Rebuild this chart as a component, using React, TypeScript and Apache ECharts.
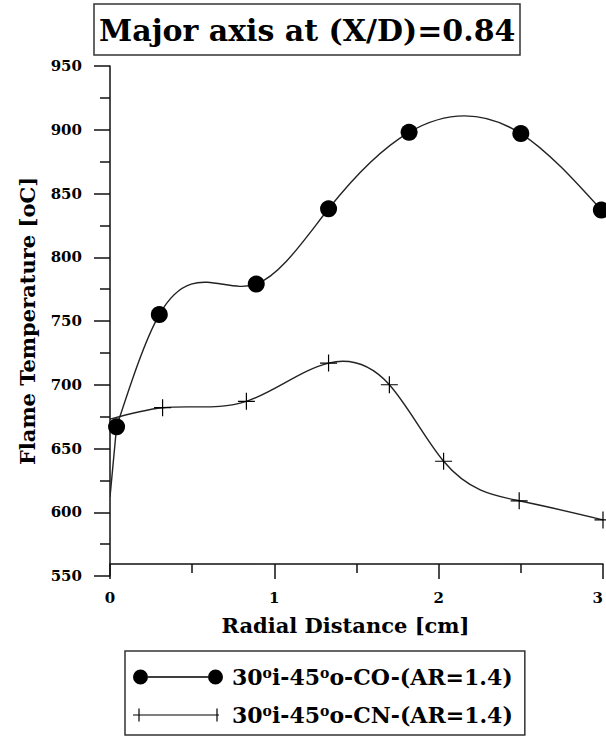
import React, { useEffect, useRef } from 'react';
import * as echarts from 'echarts';

const TITLE = 'Major axis at (X/D)=0.84';
const X_NAME = 'Radial Distance [cm]';
const Y_NAME = 'Flame Temperature [oC]';

const CO_NAME = '30oi-45oo-CO-(AR=1.4)';
const CN_NAME = '30oi-45oo-CN-(AR=1.4)';
const CO_LABEL = '30{s|o}i-45{s|o}o-CO-(AR=1.4)';
const CN_LABEL = '30{s|o}i-45{s|o}o-CN-(AR=1.4)';

// CO series (filled circles); the first point is the unmarked start of the line at x = 0
const coX = [0, 0.04, 0.3, 0.89, 1.33, 1.82, 2.5, 2.99];
const coY = [612, 667, 755, 779, 838, 898, 897, 837];
const coMarked = [false, true, true, true, true, true, true, true];

// CN series (crosses); the first point is the unmarked start of the line at x = 0
const cnX = [0, 0.32, 0.83, 1.33, 1.7, 2.03, 2.49, 3.0];
const cnY = [673, 682, 687, 717, 700, 640, 609, 594];
const cnMarked = [false, true, true, true, true, true, true, true];

const X_MIN = 0;
const X_MAX = 3;
const Y_MIN = 550;
const Y_MAX = 950;

const FONT = 'DejaVu Serif';
const INK = '#111';
const CURVE = '#222';

const CROSS = 'path://M0,7.9 H17 V9.1 H0 Z M7.9,0 H9.1 V17 H7.9 Z';
const CO_ICON =
  'path://M0,7.5 A7.5,7.5 0 1,1 15,7.5 A7.5,7.5 0 1,1 0,7.5 Z M75,7.5 A7.5,7.5 0 1,1 90,7.5 A7.5,7.5 0 1,1 75,7.5 Z M15,6.8 H75 V8.2 H15 Z';
const CN_ICON =
  'path://M0,6.9 H86 V8.1 H0 Z M5.4,1 H6.6 V14 H5.4 Z M83.4,1 H84.6 V14 H83.4 Z M0,0 H0.01 V15 H0 Z M89.99,0 H90 V15 H89.99 Z';

// slopes of a natural cubic spline through the points (used only to draw the curve)
function splineSlopes(xs: number[], ys: number[]): number[] {
  const n = xs.length;
  const h: number[] = [];
  const d: number[] = [];
  for (let i = 0; i < n - 1; i++) {
    h.push(xs[i + 1] - xs[i]);
    d.push((ys[i + 1] - ys[i]) / h[i]);
  }
  const a = new Array(n).fill(0);
  const b = new Array(n).fill(0);
  const c = new Array(n).fill(0);
  const r = new Array(n).fill(0);
  b[0] = 2; c[0] = 1; r[0] = 3 * d[0];
  for (let i = 1; i < n - 1; i++) {
    a[i] = 1 / h[i - 1];
    b[i] = 2 * (1 / h[i - 1] + 1 / h[i]);
    c[i] = 1 / h[i];
    r[i] = 3 * (d[i - 1] / h[i - 1] + d[i] / h[i]);
  }
  a[n - 1] = 1; b[n - 1] = 2; r[n - 1] = 3 * d[n - 2];
  for (let i = 1; i < n; i++) {
    const m = a[i] / b[i - 1];
    b[i] -= m * c[i - 1];
    r[i] -= m * r[i - 1];
  }
  const k = new Array(n).fill(0);
  k[n - 1] = r[n - 1] / b[n - 1];
  for (let i = n - 2; i >= 0; i--) k[i] = (r[i] - c[i] * k[i + 1]) / b[i];
  return k;
}

// curve: straight lead-in segments (first `lead` points), then a spline through the rest
function curveSeries(xs: number[], ys: number[], lead: number) {
  const sx = xs.slice(lead);
  const sy = ys.slice(lead);
  const k = splineSlopes(sx, sy);
  const style = { stroke: CURVE, lineWidth: 1.4, fill: null };
  return {
    type: 'custom',
    clip: true,
    z: 1,
    silent: true,
    data: xs.map((x, i) => [x, ys[i]]),
    renderItem: (params: any, api: any) => {
      const i = params.dataIndex;
      if (i >= xs.length - 1) return { type: 'group', children: [] };
      const p0 = api.coord([xs[i], ys[i]]);
      const p3 = api.coord([xs[i + 1], ys[i + 1]]);
      if (i < lead) {
        return { type: 'line', shape: { x1: p0[0], y1: p0[1], x2: p3[0], y2: p3[1] }, style };
      }
      const j = i - lead;
      const h = sx[j + 1] - sx[j];
      const c1 = api.coord([sx[j] + h / 3, sy[j] + (k[j] * h) / 3]);
      const c2 = api.coord([sx[j + 1] - h / 3, sy[j + 1] - (k[j + 1] * h) / 3]);
      return {
        type: 'bezierCurve',
        shape: { x1: p0[0], y1: p0[1], cpx1: c1[0], cpy1: c1[1], cpx2: c2[0], cpy2: c2[1], x2: p3[0], y2: p3[1] },
        style,
      };
    },
  };
}

function markers(xs: number[], ys: number[], marked: boolean[]) {
  return xs.map((x, i) => (marked[i] ? [x, ys[i]] : { value: [x, ys[i]], symbol: 'none' }));
}

export default function App() {
  const ref = useRef<HTMLDivElement>(null);
  useEffect(() => {
    if (!ref.current) return;
    const chart = echarts.init(ref.current, null, { renderer: 'svg' });
    const axisStyle = { color: INK, width: 1.5 };
    chart.setOption({
      animation: false,
      backgroundColor: '#fff',
      title: {
        text: TITLE,
        left: 94,
        top: 4,
        padding: [11, 5, 10, 5],
        borderColor: '#333',
        borderWidth: 1.5,
        textStyle: { fontFamily: FONT, fontWeight: 'bold', fontSize: 30, color: '#000' },
      },
      grid: { left: 110, right: 3, top: 66, bottom: 164, containLabel: false, outerBoundsMode: 'none' },
      xAxis: {
        type: 'value',
        min: X_MIN,
        max: X_MAX,
        interval: 1,
        offset: -12,
        name: X_NAME,
        nameLocation: 'middle',
        nameGap: 51,
        nameTextStyle: { fontFamily: FONT, fontWeight: 'bold', fontSize: 21, color: '#000', padding: [0, 22, 0, 0] },
        axisLine: { show: true, onZero: false, lineStyle: axisStyle },
        axisTick: { show: true, length: 15, lineStyle: axisStyle },
        minorTick: { show: true, splitNumber: 2, length: 9, lineStyle: axisStyle },
        splitLine: { show: false },
        axisLabel: {
          fontFamily: FONT, fontWeight: 'bold', fontSize: 15, color: '#000', margin: 26,
          showMaxLabel: true, showMinLabel: true, alignMaxLabel: 'right',
        },
      },
      yAxis: {
        type: 'value',
        min: Y_MIN,
        max: Y_MAX,
        interval: 50,
        name: Y_NAME,
        nameLocation: 'middle',
        nameGap: 72,
        nameTextStyle: { fontFamily: FONT, fontWeight: 'bold', fontSize: 21, color: '#000' },
        axisLine: { show: true, onZero: false, lineStyle: axisStyle },
        axisTick: { show: true, length: 16, lineStyle: axisStyle },
        minorTick: { show: true, splitNumber: 2, length: 10, lineStyle: axisStyle },
        splitLine: { show: false },
        axisLabel: { fontFamily: FONT, fontWeight: 'bold', fontSize: 15, color: '#000', margin: 28 },
      },
      legend: {
        orient: 'vertical',
        left: 125,
        top: 651,
        padding: [15, 12, 9, 8],
        itemGap: 16,
        itemWidth: 90,
        itemHeight: 15,
        borderColor: '#333',
        borderWidth: 1.5,
        itemStyle: { color: '#000', borderWidth: 0 },
        data: [
          { name: CO_NAME, icon: CO_ICON },
          { name: CN_NAME, icon: CN_ICON },
        ],
        formatter: (n: string) => (n === CO_NAME ? CO_LABEL : CN_LABEL),
        textStyle: {
          fontFamily: FONT,
          fontWeight: 'bold',
          fontSize: 22,
          color: '#000',
          padding: [0, 0, 0, 4],
          rich: {
            s: { fontFamily: FONT, fontWeight: 'bold', fontSize: 14, color: '#000', verticalAlign: 'top' },
          },
        },
      },
      series: [
        curveSeries(coX, coY, 1),
        curveSeries(cnX, cnY, 0),
        {
          name: CO_NAME,
          type: 'line',
          data: markers(coX, coY, coMarked),
          symbol: 'circle',
          symbolSize: 17,
          color: '#000',
          itemStyle: { color: '#000', borderWidth: 0 },
          lineStyle: { opacity: 0 },
          z: 3,
        },
        {
          name: CN_NAME,
          type: 'line',
          data: markers(cnX, cnY, cnMarked),
          symbol: CROSS,
          symbolSize: 17,
          color: '#000',
          itemStyle: { color: '#000', borderWidth: 0 },
          lineStyle: { opacity: 0 },
          z: 3,
        },
      ],
    });
    return () => chart.dispose();
  }, []);
  return <div ref={ref} style={{ position: 'absolute', left: 0, top: 0, width: 606, height: 740 }} />;
}
